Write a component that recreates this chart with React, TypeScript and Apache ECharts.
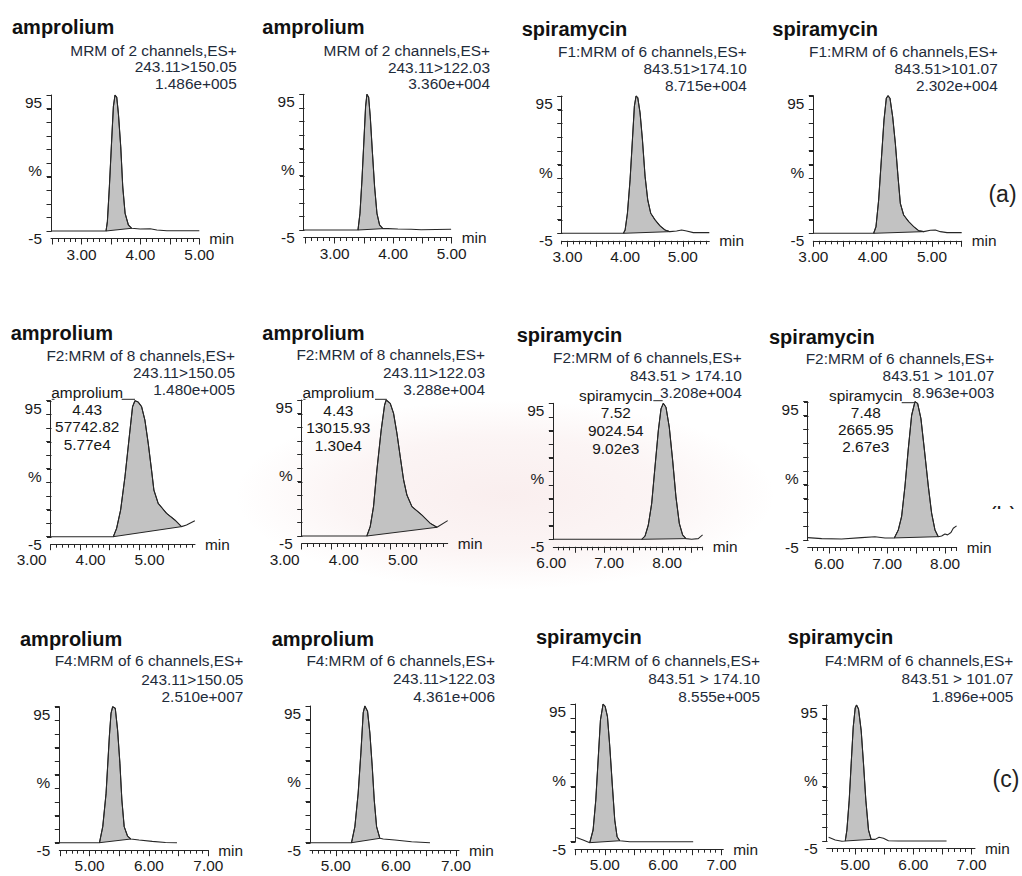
import React, { useEffect, useRef } from "react";
import * as echarts from "echarts";

type Pt = [number, number];

// ---------- DATA ----------
const titles = [
  "amprolium", "amprolium", "spiramycin", "spiramycin",
  "amprolium", "amprolium", "spiramycin", "spiramycin",
  "amprolium", "amprolium", "spiramycin", "spiramycin",
];

const headers: string[][] = [
  ["MRM of 2 channels,ES+", "243.11>150.05", "1.486e+005"],
  ["MRM of 2 channels,ES+", "243.11>122.03", "3.360e+004"],
  ["F1:MRM of 6 channels,ES+", "843.51>174.10", "8.715e+004"],
  ["F1:MRM of 6 channels,ES+", "843.51>101.07", "2.302e+004"],
  ["F2:MRM of 8 channels,ES+", "243.11>150.05", "1.480e+005"],
  ["F2:MRM of 8 channels,ES+", "243.11>122.03", "3.288e+004"],
  ["F2:MRM of 6 channels,ES+", "843.51 > 174.10", "3.208e+004"],
  ["F2:MRM of 6 channels,ES+", "843.51 > 101.07", "8.963e+003"],
  ["F4:MRM of 6 channels,ES+", "243.11>150.05", "2.510e+007"],
  ["F4:MRM of 6 channels,ES+", "243.11>122.03", "4.361e+006"],
  ["F4:MRM of 6 channels,ES+", "843.51 > 174.10", "8.555e+005"],
  ["F4:MRM of 6 channels,ES+", "843.51 > 101.07", "1.896e+005"],
];

const peakLabels: (string[] | null)[] = [
  null, null, null, null,
  ["amprolium", "4.43", "57742.82", "5.77e4"],
  ["amprolium", "4.43", "13015.93", "1.30e4"],
  ["spiramycin", "7.52", "9024.54", "9.02e3"],
  ["spiramycin", "7.48", "2665.95", "2.67e3"],
  null, null, null, null,
];

const panelTags = ["(a)", "(b)", "(c)"];

// traces: [time (min), intensity (%)]
const amp150A: Pt[] = [[2.48,0],[3.415,0],[3.438,6.9],[3.472,32.6],[3.511,66.9],[3.54,91.4],[3.568,100],[3.597,98.3],[3.625,86.5],[3.665,62],[3.699,32.6],[3.739,13],[3.795,4.4],[3.852,2.0],[3.994,1.5],[4.165,1.7],[4.278,0.7],[4.449,0.2],[5.0,0.2]];
const amp122A: Pt[] = [[2.47,0],[3.398,0],[3.432,12.3],[3.466,36.9],[3.5,66.3],[3.528,90.9],[3.551,100],[3.58,97.8],[3.608,83.5],[3.642,59],[3.682,31.9],[3.722,12.3],[3.767,3.7],[3.824,1.0],[3.909,1.0],[4.08,0.7],[4.307,0.5],[4.477,0.2],[4.99,0.5]];
const spi174A: Pt[] = [[2.9,0],[3.971,0],[4.0,2.4],[4.04,14.6],[4.086,39],[4.127,68.3],[4.161,92.7],[4.19,100],[4.219,98.8],[4.259,87.8],[4.3,68.3],[4.346,41.5],[4.392,24.4],[4.444,14.6],[4.519,9.8],[4.605,5.4],[4.692,2.4],[4.778,1.2],[4.893,1.7],[4.98,2.4],[5.066,1.7],[5.182,0.5],[5.46,0.5]];
const spi101A: Pt[] = [[3.0,0],[4.017,0],[4.056,4.8],[4.101,24.2],[4.146,53.3],[4.191,82.3],[4.23,98.1],[4.258,100],[4.292,98.1],[4.337,84.7],[4.382,65.4],[4.427,41.2],[4.466,21.8],[4.522,13.3],[4.607,8.5],[4.691,4.8],[4.775,1.9],[4.86,1.2],[4.972,2.2],[5.056,2.4],[5.14,1.2],[5.253,0.5],[5.5,0.5]];
const amp150B: Pt[] = [[3.0,0],[4.063,0],[4.119,6.1],[4.187,19.6],[4.261,44.1],[4.334,73.5],[4.39,95.6],[4.43,100],[4.486,99],[4.543,95.6],[4.599,85.8],[4.656,68.6],[4.712,49],[4.752,34.3],[4.825,24.5],[4.967,17.2],[5.108,12.3],[5.221,7.4],[5.306,8.6],[5.447,11.8]];
const amp122B: Pt[] = [[3.0,0],[4.102,0],[4.159,6.9],[4.215,21.6],[4.272,48.5],[4.345,77.9],[4.402,96.3],[4.43,100],[4.498,97.5],[4.554,90.2],[4.611,75.5],[4.667,58.3],[4.724,41.2],[4.78,30.1],[4.865,21.6],[5.035,15.4],[5.176,9.3],[5.289,6.4],[5.47,11.3]];
const spi174B: Pt[] = [[5.62,0],[7.146,0],[7.204,2.4],[7.261,10.5],[7.319,26.3],[7.376,53.2],[7.434,80],[7.48,95.9],[7.52,100],[7.566,97.1],[7.623,82.4],[7.681,58],[7.738,31.2],[7.796,11.7],[7.853,3.2],[7.911,0.5],[8.009,0],[8.123,0.5],[8.198,3.2]];
const spi101B: Pt[] = [[5.63,1.7],[5.871,1.0],[6.216,0.7],[6.56,1.7],[6.79,2.4],[6.963,1.5],[7.124,1.5],[7.193,7.3],[7.25,17],[7.308,39],[7.365,65.9],[7.423,90.2],[7.48,100],[7.526,98.8],[7.583,87.8],[7.641,65.9],[7.71,39],[7.767,19.5],[7.825,7.3],[7.882,2.4],[7.94,2.9],[7.997,4.4],[8.043,3.7],[8.101,5.4],[8.141,8.5],[8.198,10.2]];
const amp150C: Pt[] = [[4.49,0],[5.167,0],[5.222,11.8],[5.278,36.3],[5.333,77.9],[5.361,95.1],[5.389,100],[5.433,98.8],[5.472,82.8],[5.511,58.3],[5.544,31.4],[5.583,11.8],[5.639,4.9],[5.694,2.7],[5.833,2.0],[6.056,1.0],[6.278,0.2],[6.472,0]];
const amp122C: Pt[] = [[4.57,0],[5.261,0],[5.317,11.8],[5.372,36.3],[5.417,65.7],[5.456,95.1],[5.483,100],[5.528,96.1],[5.567,80.1],[5.606,55.6],[5.639,31.4],[5.678,11.8],[5.733,3.2],[5.789,2.7],[5.983,2.0],[6.261,0.7],[6.567,0]];
const spi174C: Pt[] = [[4.514,3.1],[4.629,1.2],[4.743,-0.7],[4.8,8.5],[4.846,30.3],[4.886,59.3],[4.926,88.4],[4.971,100],[5.006,98.3],[5.046,90.8],[5.086,69],[5.131,40],[5.171,15.7],[5.211,3.6],[5.257,0.7],[5.429,0],[5.771,0],[6.514,0]];
const spi101C: Pt[] = [[4.543,2.7],[4.657,0.7],[4.771,-0.2],[4.829,0],[4.857,8],[4.897,30],[4.931,56.8],[4.966,83.7],[5.0,97.8],[5.023,100],[5.057,97.1],[5.103,81.2],[5.143,56.8],[5.183,30],[5.229,8],[5.274,1.2],[5.343,1.2],[5.411,2.7],[5.486,2],[5.571,0.2],[5.743,0],[6.571,0]];

const traces: Pt[][] = [amp150A, amp122A, spi174A, spi101A, amp150B, amp122B, spi174B, spi101B, amp150C, amp122C, spi174C, spi101C];

// integrated peak windows [start, end] (min)
const peakWindows: Pt[] = [
  [3.415, 3.852], [3.398, 3.824], [3.971, 4.778], [4.017, 4.86],
  [4.063, 5.221], [4.102, 5.289], [7.146, 7.911], [7.124, 7.882],
  [5.167, 5.694], [5.261, 5.733], [4.743, 5.257], [4.829, 5.274],
];

// axis ranges and tick labels
const xRanges: Pt[] = [
  [2.48, 5.0], [2.47, 5.0], [2.9, 5.46], [3.0, 5.5],
  [3.0, 5.45], [3.0, 5.47], [5.62, 8.2], [5.63, 8.2],
  [4.49, 7.0], [4.57, 7.05], [4.49, 7.03], [4.51, 7.06],
];
const xTickLabels: number[][] = [
  [3, 4, 5], [3, 4, 5], [3, 4, 5], [3, 4, 5],
  [3, 4, 5], [3, 4, 5], [6, 7, 8], [6, 7, 8],
  [5, 6, 7], [5, 6, 7], [5, 6, 7], [5, 6, 7],
];
const yTicks = [0, 10, 20, 30, 40, 50, 60, 70, 80, 90, 100];
const yLabelValues = [0, 50, 100];
const yTickLabels: Record<number, string> = { 100: "95", 50: "%", 0: "-5" };

// ---------- LAYOUT (pixels) ----------
type Lay = { left: number; right: number; top: number; zero: number; shift: number;
  tX: number; tY: number; hR: number; hY: number[] };
const lay: Lay[] = [
  { left: 51, right: 199.3, top: 95, zero: 231, shift: 0, tX: 12, tY: 27, hR: 236.7, hY: [50, 66.7, 83.3] },
  { left: 303.7, right: 451.7, top: 94.3, zero: 230, shift: 0, tX: 262.3, tY: 26.5, hR: 490, hY: [50, 67, 83] },
  { left: 561.7, right: 709.3, top: 96, zero: 233.3, shift: 0, tX: 521.7, tY: 28.5, hR: 746.7, hY: [51.7, 68.3, 85] },
  { left: 813.3, right: 961.7, top: 95.7, zero: 233.3, shift: 0, tX: 772.3, tY: 28.5, hR: 997.7, hY: [51.7, 68.3, 85] },
  { left: 50.7, right: 195, top: 400.7, zero: 536.7, shift: 19, tX: 10.7, tY: 333, hR: 235, hY: [355, 372.3, 389.3] },
  { left: 301.7, right: 447.7, top: 400, zero: 536, shift: 17, tX: 262.3, tY: 333, hR: 485, hY: [354.3, 372.3, 389.3] },
  { left: 553.3, right: 702.7, top: 403.3, zero: 539.3, shift: 24, tX: 516.7, tY: 335, hR: 741.7, hY: [357.7, 375, 392.3] },
  { left: 807.7, right: 956.7, top: 401.7, zero: 540, shift: 0, tX: 769, tY: 336.7, hR: 994.3, hY: [358.3, 375.7, 392.3] },
  { left: 59.3, right: 208.3, top: 706.7, zero: 842.7, shift: 0, tX: 20, tY: 638.5, hR: 243.3, hY: [660.7, 679, 696] },
  { left: 310, right: 459, top: 706, zero: 842.7, shift: 0, tX: 271.7, tY: 638.5, hR: 495, hY: [660.7, 678.3, 696] },
  { left: 575, right: 723.3, top: 704, zero: 841.7, shift: 0, tX: 536, tY: 637, hR: 760, hY: [660.7, 678.3, 696] },
  { left: 826.7, right: 975, top: 705, zero: 841, shift: 0, tX: 787.7, tY: 637, hR: 1013.3, hY: [660, 678.3, 696] },
];
type AnnLay = { cx: number; ys: number[]; segs: number[][] } | null;
const annLay: AnnLay[] = [
  null, null, null, null,
  { cx: 87.2, ys: [392, 409.3, 426.7, 444.5], segs: [[51.7, 54.5, 399.3], [121.7, 135, 399.3]] },
  { cx: 338.3, ys: [392, 410, 427.5, 445], segs: [[303.3, 305.5, 399.3], [375, 386.7, 399.3]] },
  { cx: 615.8, ys: [395.7, 412.3, 430.3, 448], segs: [[653.3, 662.7, 400.7]] },
  { cx: 865.8, ys: [395.3, 412.3, 429, 446], segs: [[901.7, 915, 402.7]] },
  null, null, null, null,
];
const tagPos = [[1002.5, 194], [1003, 516], [1006, 779]];

const FONT = '"Liberation Sans", Arial, Helvetica, sans-serif';
const AX = "#262626";
const TXT = "#1e2b3a";
const FS = 15.4;
const X_OFF = 7.5;
const Y_TICK_LEN = 4.5;

function buildOption() {
  const grid: any[] = [];
  const xAxis: any[] = [];
  const yAxis: any[] = [];
  const series: any[] = [];
  const graphic: any[] = [];

  // faint watermark tint behind the middle row, as in the scanned reference
  graphic.push({
    type: "ellipse", silent: true, z: -10,
    shape: { cx: 505, cy: 495, rx: 270, ry: 95 },
    style: {
      fill: new echarts.graphic.RadialGradient(0.5, 0.5, 0.5, [
        { offset: 0, color: "rgba(220,150,150,0.16)" },
        { offset: 0.6, color: "rgba(220,150,150,0.10)" },
        { offset: 1, color: "rgba(220,150,150,0)" },
      ]),
    },
  });

  lay.forEach((L, i) => {
    const [xMin, xMax] = xRanges[i];
    const gi = grid.length;
    grid.push({ left: L.left, top: L.top, width: L.right - L.left, height: L.zero - L.top });

    const minor: number[] = [];
    const major: number[] = [];
    for (let k = Math.ceil(xMin * 10 - 1e-6); k <= Math.floor(xMax * 10 + 1e-6); k++) {
      const v = +(k / 10).toFixed(1);
      if (k % 5 === 0) major.push(v); else minor.push(v);
    }
    const xi = xAxis.length;
    xAxis.push({
      gridIndex: gi, type: "value", position: "bottom", min: xMin, max: xMax, offset: X_OFF,
      axisLine: { show: true, onZero: false, lineStyle: { color: AX, width: 1 } },
      axisTick: { show: true, customValues: minor, length: 3.5, lineStyle: { color: AX, width: 1 } },
      axisLabel: {
        show: L.shift === 0, customValues: xTickLabels[i], formatter: (v: number) => v.toFixed(2),
        margin: 8, fontSize: FS, color: "#1a1a1a", fontFamily: FONT,
      },
      splitLine: { show: false },
      name: "min", nameLocation: "end", nameGap: 10,
      nameTextStyle: { fontSize: FS, color: "#1a1a1a", fontFamily: FONT, verticalAlign: "middle" },
    });
    xAxis.push({
      gridIndex: gi, type: "value", position: "bottom", min: xMin, max: xMax, offset: X_OFF,
      axisLine: { show: false, onZero: false },
      axisTick: { show: true, customValues: major, length: 6, lineStyle: { color: AX, width: 1 } },
      axisLabel: { show: false }, splitLine: { show: false },
    });
    const yi = yAxis.length;
    yAxis.push({
      gridIndex: gi, type: "value", position: "left", min: 0, max: 100, interval: 10,
      axisLine: { show: true, onZero: false, lineStyle: { color: AX, width: 1 } },
      axisTick: { show: true, inside: false, customValues: yTicks, length: Y_TICK_LEN, lineStyle: { color: AX, width: 1 } },
      axisLabel: {
        customValues: yLabelValues,
        formatter: (v: number) => yTickLabels[Math.round(v)] ?? "",
        verticalAlign: "top", margin: 9, fontSize: FS, color: "#1a1a1a", fontFamily: FONT,
      },
      splitLine: { show: false },
    });

    // y-axis tick marks, placed through the axis scale
    series.push({
      type: "custom", xAxisIndex: xi, yAxisIndex: yi, silent: true, z: 4, clip: false,
      data: yTicks.map((v) => [xMin, v]),
      renderItem: (_p: any, api: any) => {
        const c = api.coord([api.value(0), api.value(1)]);
        const x = Math.round(c[0]) + 0.5;
        const y = Math.round(c[1]) + 0.5;
        return {
          type: "line", shape: { x1: x - Y_TICK_LEN, y1: y, x2: x, y2: y },
          style: { stroke: AX, lineWidth: 1 },
        };
      },
    });

    const trace = traces[i];
    const win = peakWindows[i];
    series.push({
      type: "custom", xAxisIndex: xi, yAxisIndex: yi, silent: true, z: 2, clip: false,
      data: [[win[0], 0]],
      renderItem: (_p: any, api: any) => {
        const pts = trace
          .filter((p) => p[0] >= win[0] - 1e-9 && p[0] <= win[1] + 1e-9)
          .map((p) => api.coord(p));
        return {
          type: "polygon", shape: { points: pts },
          style: { fill: "#c2c2c2", stroke: AX, lineWidth: 1 },
        };
      },
    });
    series.push({
      type: "line", xAxisIndex: xi, yAxisIndex: yi, data: trace, symbol: "none", showSymbol: false,
      lineStyle: { color: AX, width: 1.1 }, z: 3, clip: false, silent: true,
    });

    if (L.shift) {
      const gl = grid.length;
      grid.push({ left: L.left - L.shift, top: L.top, width: L.right - L.left, height: L.zero - L.top });
      xAxis.push({
        gridIndex: gl, type: "value", position: "bottom", min: xMin, max: xMax, offset: X_OFF,
        axisLine: { show: false, onZero: false }, axisTick: { show: false },
        axisLabel: {
          show: true, customValues: xTickLabels[i], formatter: (v: number) => v.toFixed(2),
          margin: 8, fontSize: FS, color: "#1a1a1a", fontFamily: FONT,
        },
        splitLine: { show: false },
      });
      yAxis.push({ gridIndex: gl, type: "value", min: 0, max: 100, show: false });
    }

    // texts
    graphic.push({
      type: "text", x: L.tX, y: L.tY, silent: true,
      style: { text: titles[i], fill: "#111", font: `bold 20px ${FONT}`, align: "left", verticalAlign: "middle" },
    });
    headers[i].forEach((h, k) => {
      graphic.push({
        type: "text", x: L.hR, y: L.hY[k], silent: true,
        style: { text: h, fill: TXT, font: `${FS}px ${FONT}`, align: "right", verticalAlign: "middle" },
      });
    });
    const ann = peakLabels[i];
    const A = annLay[i];
    if (ann && A) {
      ann.forEach((t, k) => {
        graphic.push({
          type: "text", x: A.cx, y: A.ys[k], silent: true,
          style: { text: t, fill: "#161616", font: `${FS}px ${FONT}`, align: "center", verticalAlign: "middle" },
        });
      });
      A.segs.forEach((s) => {
        graphic.push({
          type: "line", silent: true,
          shape: { x1: s[0], y1: s[2], x2: s[1], y2: s[2] },
          style: { stroke: AX, lineWidth: 1 },
        });
      });
    }
  });

  panelTags.forEach((t, k) => {
    graphic.push({
      type: "text", x: tagPos[k][0], y: tagPos[k][1], silent: true, z: 10,
      style: { text: t, fill: "#222", font: `23px ${FONT}`, align: "center", verticalAlign: "middle" },
    });
  });
  // the (b) tag is mostly covered in the reference
  graphic.push({
    type: "rect", silent: true, z: 11,
    shape: { x: 975, y: 509, width: 47, height: 24 },
    style: { fill: "#fff" },
  });

  return {
    animation: false,
    backgroundColor: "#fff",
    grid, xAxis, yAxis, series, graphic,
  };
}

export default function App() {
  const ref = useRef<HTMLDivElement>(null);
  useEffect(() => {
    document.body.style.margin = "0";
    const chart = echarts.init(ref.current!, null, { renderer: "svg" });
    chart.setOption(buildOption());
    return () => chart.dispose();
  }, []);
  return <div ref={ref} style={{ width: 1022, height: 876, background: "#fff" }} />;
}
